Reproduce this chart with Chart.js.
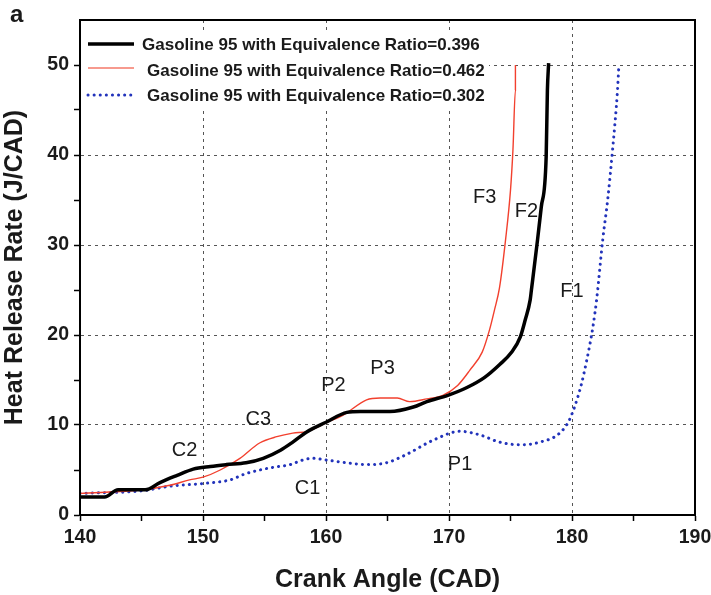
<!DOCTYPE html>
<html lang="en">
<head>
<meta charset="UTF-8">
<title>Heat Release Rate</title>
<script src="https://cdn.jsdelivr.net/npm/chart.js@4.4.0/dist/chart.umd.min.js"></script>
<style>
  html, body { margin: 0; padding: 0; background: #fff; }
  #grafico { display: block; }
</style>
</head>
<body>
<canvas id="grafico" width="711" height="595"></canvas>
<script>
// dados (CAD, J/CAD)
const angulo396 = [140, 142, 143.1, 145.3, 146.5, 147.9, 149.2, 150.6, 151.9, 153.5, 154.9, 156.3, 157.3, 158.4, 160, 161.7, 162.8, 165.2, 167.1, 168.2, 169.9, 171.5, 172.9, 174.1, 175.1, 175.8, 176.2, 176.6, 176.7, 177.2, 177.5, 177.9, 178.0, 178.1];
const hrr396    = [2.0, 2.0, 2.8, 2.8, 3.6, 4.4, 5.1, 5.4, 5.6, 5.8, 6.3, 7.2, 8.1, 9.2, 10.3, 11.4, 11.5, 11.5, 12.0, 12.6, 13.3, 14.2, 15.3, 16.7, 18.1, 19.8, 21.7, 23.9, 25.0, 30.6, 34.2, 39.8, 47.2, 50.2];

const angulo462 = [140, 145.1, 147.3, 148.9, 150, 151.4, 153, 154.6, 156, 157.3, 158.5, 160.1, 161.4, 163.3, 164.4, 165.8, 166.8, 168.2, 169.5, 170.7, 171.7, 172.7, 173.3, 173.7, 174.1, 174.6, 175.0, 175.2, 175.4, 175.4];
const hrr462    = [2.4, 2.8, 3.3, 3.9, 4.2, 5.0, 6.3, 8.0, 8.7, 9.1, 9.3, 10.3, 11.1, 12.8, 13.0, 13.0, 12.6, 12.9, 13.3, 14.4, 16.1, 18.1, 20.6, 22.8, 25.2, 30.6, 36.1, 40.6, 47.2, 50.0];

const angulo302 = [140, 145.1, 147.3, 150, 152.2, 153.5, 155.7, 157.1, 158.1, 158.9, 160.1, 161.7, 163.3, 164.9, 166.5, 168.7, 170.9, 172.5, 174.1, 175.8, 177.4, 179, 179.8, 180.7, 181.2, 181.7, 182.0, 182.5, 182.9, 183.3, 183.7, 183.8];
const hrr302    = [2.4, 2.7, 3.2, 3.5, 3.9, 4.6, 5.3, 5.6, 6.1, 6.3, 6.1, 5.8, 5.6, 5.8, 6.7, 8.3, 9.3, 8.9, 8.1, 7.8, 8.1, 9.1, 10.6, 14.2, 17.2, 20.9, 23.9, 30.6, 35.0, 40.6, 47.2, 49.7];

const nomesSeries = [
  'Gasoline 95 with Equivalence Ratio=0.396',
  'Gasoline 95 with Equivalence Ratio=0.462',
  'Gasoline 95 with Equivalence Ratio=0.302'
];

// rótulos das regiões da curva
const rotulos = ['C2', 'C3', 'P2', 'P3', 'C1', 'P1', 'F3', 'F2', 'F1'];
const rotuloX = [148.5, 154.5, 160.6, 164.6, 158.5, 170.9, 172.9, 176.3, 180.0];
const rotuloY = [7.2, 10.6, 14.4, 16.3, 3.0, 5.6, 35.3, 33.7, 24.8];

const eixoXTicks = [140, 150, 160, 170, 180, 190];
const eixoYTicks = [0, 10, 20, 30, 40, 50];

function pontos(xs, ys) {
  return xs.map((x, i) => ({ x: x, y: ys[i] }));
}

const fonte = 'Arial, "Liberation Sans", sans-serif';

// moldura, legenda e rótulos
const extras = {
  id: 'extras',
  afterDraw(chart) {
    const ctx = chart.ctx;
    const area = chart.chartArea;
    const sx = chart.scales.x, sy = chart.scales.y;
    ctx.save();

    // legenda com fundo branco
    ctx.fillStyle = '#fff';
    ctx.fillRect(area.left + 1, 31, 488 - area.left, 77);
    const ds = chart.data.datasets;
    const linhasY = [44, 68, 95];
    const textoX = [142, 147, 147];
    const corAmostra = ['#000', '#f47868', ds[2].borderColor];
    for (let i = 0; i < ds.length; i++) {
      ctx.save();
      ctx.strokeStyle = corAmostra[i];
      ctx.lineWidth = ds[i].borderWidth;
      ctx.lineCap = ds[i].borderCapStyle || 'butt';
      ctx.setLineDash(ds[i].borderDash || []);
      ctx.beginPath();
      ctx.moveTo(88, linhasY[i]);
      ctx.lineTo(134, linhasY[i]);
      ctx.stroke();
      ctx.restore();
      ctx.fillStyle = '#1a1a1a';
      ctx.font = 'bold 17px ' + fonte;
      ctx.textBaseline = 'middle';
      ctx.fillText(ds[i].label, textoX[i], [44, 70, 95][i] + 1);
    }

    ctx.strokeStyle = '#000';
    ctx.lineWidth = 2;
    ctx.strokeRect(area.left, area.top, area.right - area.left, area.bottom - area.top);

    // rótulos
    ctx.font = '20px ' + fonte;
    ctx.fillStyle = '#1a1a1a';
    ctx.textAlign = 'center';
    ctx.textBaseline = 'middle';
    for (let i = 0; i < rotulos.length; i++) {
      ctx.fillText(rotulos[i], sx.getPixelForValue(rotuloX[i]), sy.getPixelForValue(rotuloY[i]));
    }

    ctx.font = 'bold 24px ' + fonte;
    ctx.textAlign = 'left';
    ctx.fillText('a', 10, 15);
    ctx.restore();
  }
};

const gradeCinza = '#555';

new Chart(document.getElementById('grafico'), {
  type: 'line',
  data: {
    datasets: [
      {
        label: nomesSeries[0],
        data: pontos(angulo396, hrr396),
        borderColor: '#000',
        borderWidth: 3.5,
        pointRadius: 0,
        cubicInterpolationMode: 'monotone',
        fill: false
      },
      {
        label: nomesSeries[1],
        data: pontos(angulo462, hrr462),
        borderColor: '#f2402e',
        borderWidth: 1.4,
        pointRadius: 0,
        cubicInterpolationMode: 'monotone',
        fill: false
      },
      {
        label: nomesSeries[2],
        data: pontos(angulo302, hrr302),
        borderColor: '#2233bb',
        borderWidth: 3,
        borderDash: [0.1, 6],
        borderCapStyle: 'round',
        pointRadius: 0,
        cubicInterpolationMode: 'monotone',
        fill: false
      }
    ]
  },
  options: {
    responsive: false,
    animation: false,
    layout: { padding: { top: 20, right: 16, left: 0, bottom: 0 } },
    plugins: {
      legend: { display: false },
      tooltip: { enabled: false }
    },
    scales: {
      x: {
        type: 'linear',
        min: 140,
        max: 190,
        afterFit(scale) { scale.height = 80; scale.paddingRight = 0; scale.paddingLeft = 0; },
        ticks: {
          stepSize: 5,
          autoSkip: false,
          maxRotation: 0,
          padding: 5,
          color: '#1a1a1a',
          font: { family: fonte, size: 19.5, weight: 'bold' },
          callback: (v) => eixoXTicks.includes(v) ? String(v) : ''
        },
        grid: {
          color: (c) => (c.tick && c.tick.value % 10 === 0 && c.tick.value > 140 && c.tick.value < 190) ? gradeCinza : 'transparent',
          lineWidth: 1,
          drawTicks: true,
          tickLength: 6,
          tickColor: '#000',
          tickWidth: 1.5
        },
        border: { display: true, color: '#000', width: 2, dash: [3, 4] },
        title: {
          display: true,
          text: 'Crank Angle (CAD)',
          color: '#1a1a1a',
          font: { family: fonte, size: 25, weight: 'bold' },
          padding: { top: 8, bottom: 0 }
        }
      },
      y: {
        type: 'linear',
        min: 0,
        max: 55,
        afterFit(scale) { scale.width = 80; scale.paddingTop = 0; scale.paddingBottom = 0; },
        ticks: {
          stepSize: 5,
          autoSkip: false,
          padding: 5,
          color: '#1a1a1a',
          font: { family: fonte, size: 19.5, weight: 'bold' },
          callback: (v) => eixoYTicks.includes(v) ? String(v) : ''
        },
        grid: {
          color: (c) => (c.tick && c.tick.value % 10 === 0 && c.tick.value > 0 && c.tick.value < 55) ? gradeCinza : 'transparent',
          lineWidth: 1,
          drawTicks: true,
          tickLength: 6,
          tickColor: (c) => (c.tick && c.tick.value < 55) ? '#000' : 'transparent',
          tickWidth: 1.5
        },
        border: { display: true, color: '#000', width: 2, dash: [3, 4] },
        title: {
          display: true,
          text: 'Heat Release Rate (J/CAD)',
          color: '#1a1a1a',
          font: { family: fonte, size: 25, weight: 'bold' },
          padding: { top: 0, bottom: 2 }
        }
      }
    }
  },
  plugins: [extras]
});
</script>
</body>
</html>
